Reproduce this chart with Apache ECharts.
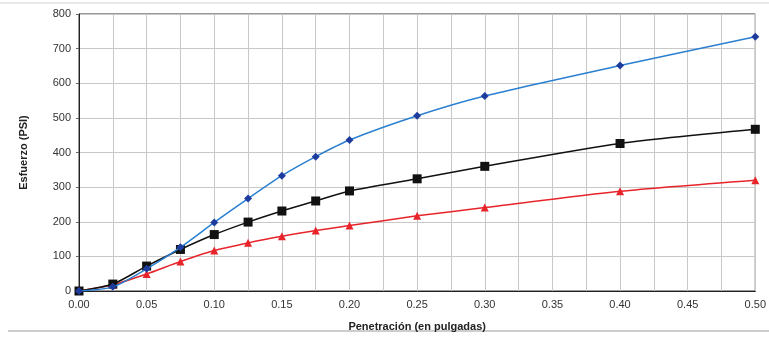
<!DOCTYPE html>
<html>
<head>
<meta charset="utf-8">
<script src="https://cdn.jsdelivr.net/npm/echarts@6/dist/echarts.min.js"></script>
<style>
  html, body { margin: 0; padding: 0; background: #fff; }
  #chart { width: 769px; height: 338px; }
</style>
</head>
<body>
<div id="chart"></div>
<script>
// Penetration (inches) at which each load reading was taken
const penetracion = [0, 0.025, 0.05, 0.075, 0.1, 0.125, 0.15, 0.175, 0.2, 0.25, 0.3, 0.4, 0.5];
// Stress readings (PSI) for the three specimens
const esfuerzoAzul  = [0, 12, 64, 126, 198, 267, 333, 388, 436, 506, 563, 651, 734];
const esfuerzoNegro = [0, 20, 72, 120, 163, 199, 231, 260, 289, 324, 360, 426, 467];
const esfuerzoRojo  = [0, 18, 49, 85, 117, 139, 158, 175, 189, 217, 241, 288, 320];
// Axis ticks
const yTicks = [0, 100, 200, 300, 400, 500, 600, 700, 800];

const pairs = (ys) => penetracion.map((x, i) => [x, ys[i]]);

const chart = echarts.init(document.getElementById('chart'), null, { renderer: 'canvas' });

const font = 'Liberation Sans, Arial, sans-serif';

chart.setOption({
  animation: false,
  backgroundColor: '#fff',
  grid: { left: 79, right: 10, top: 14, bottom: 47, show: true, borderColor: '#333', borderWidth: 1 },
  xAxis: {
    type: 'value',
    min: 0, max: 0.5, interval: 0.025,
    name: 'Penetración (en pulgadas)',
    nameLocation: 'middle', nameGap: 30,
    nameTextStyle: { fontFamily: font, fontWeight: 'bold', fontSize: 11, color: '#222' },
    axisLine: { lineStyle: { color: '#222', width: 1 } },
    axisTick: { show: false },
    axisLabel: {
      fontFamily: font, fontSize: 11, color: '#333', margin: 8,
      formatter: (v) => (Math.round(v * 1000) % 50 === 0 ? v.toFixed(2) : '')
    },
    splitLine: { show: true, lineStyle: { color: '#c8c8c8', width: 1 } }
  },
  yAxis: {
    type: 'value',
    min: yTicks[0], max: yTicks[yTicks.length - 1], interval: 100,
    name: 'Esfuerzo (PSI)',
    nameLocation: 'middle', nameGap: 50, nameRotate: 90,
    nameTextStyle: { fontFamily: font, fontWeight: 'bold', fontSize: 11, color: '#222' },
    axisLine: { show: true, lineStyle: { color: '#222', width: 1 } },
    axisTick: { show: true, length: 3, lineStyle: { color: '#666' } },
    axisLabel: { fontFamily: font, fontSize: 11, color: '#333', margin: 8 },
    splitLine: { show: true, lineStyle: { color: '#c8c8c8', width: 1 } }
  },
  graphic: [
    { type: 'line', shape: { x1: 0, y1: 3, x2: 769, y2: 3 }, style: { stroke: '#d4d4d4', lineWidth: 1 } },
    { type: 'line', shape: { x1: 8, y1: 331, x2: 769, y2: 331 }, style: { stroke: '#bdbdbd', lineWidth: 1.5 } }
  ],
  series: [
    {
      type: 'line', data: pairs(esfuerzoRojo), smooth: 0.25,
      lineStyle: { color: '#e8242b', width: 1.5 },
      itemStyle: { color: '#e8242b' },
      symbol: 'triangle', symbolSize: 8, z: 3
    },
    {
      type: 'line', data: pairs(esfuerzoNegro), smooth: 0.25,
      lineStyle: { color: '#111', width: 1.5 },
      itemStyle: { color: '#111' },
      symbol: 'rect', symbolSize: 9, z: 4
    },
    {
      type: 'line', data: pairs(esfuerzoAzul), smooth: 0.25,
      lineStyle: { color: '#2a7fd0', width: 1.5 },
      itemStyle: { color: '#1e3c9e' },
      symbol: 'diamond', symbolSize: 8, z: 5
    }
  ]
});
</script>
</body>
</html>
